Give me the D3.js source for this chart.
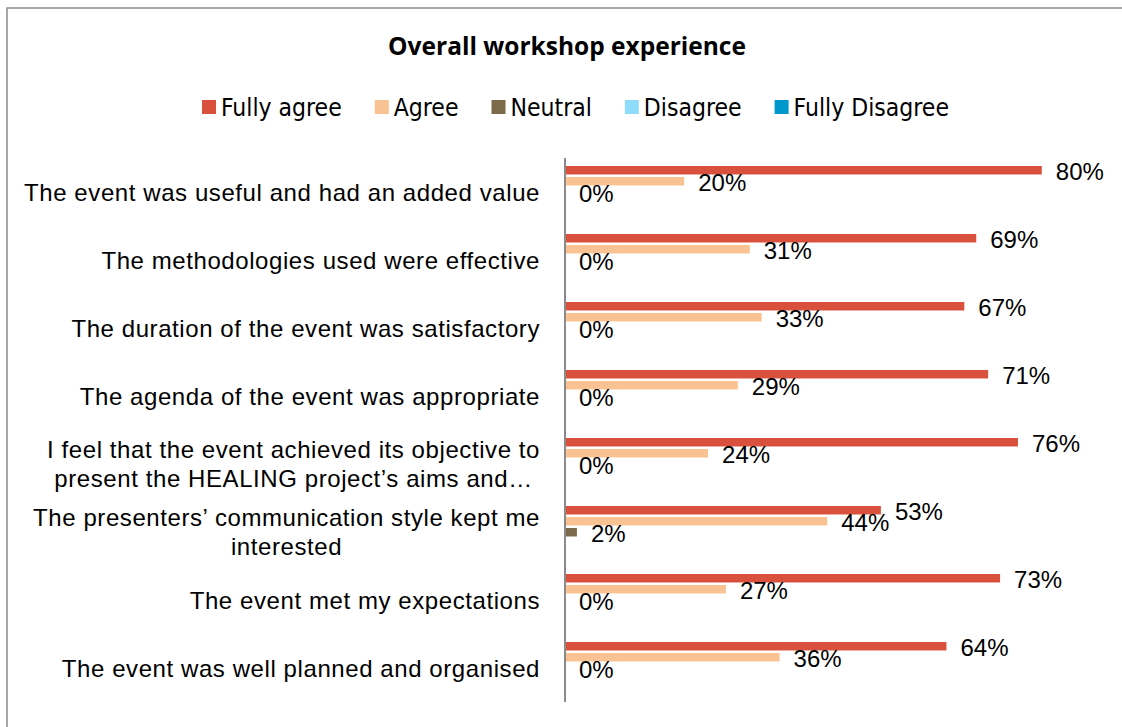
<!DOCTYPE html>
<html>
<head>
<meta charset="utf-8">
<script src="https://cdn.jsdelivr.net/npm/d3@7"></script>
<style>
  body { margin: 0; background: #fff; }
  svg { display: block; }
</style>
</head>
<body>
<div id="chart-area"></div>
<script>
// Data (top to bottom as shown)
const categories = [
  ["The event was useful and had an added value"],
  ["The methodologies used were effective"],
  ["The duration of the event was satisfactory"],
  ["The agenda of the event was appropriate"],
  ["I feel that the event achieved its objective to", "present the HEALING project\u2019s aims and\u2026"],
  ["The presenters\u2019 communication style kept me", "interested"],
  ["The event met my expectations"],
  ["The event was well planned and organised"]
];
const seriesNames = ["Fully agree", "Agree", "Neutral", "Disagree", "Fully Disagree"];
const fullyAgree    = [0.80, 0.69, 0.67, 0.71, 0.76, 0.53, 0.73, 0.64];
const agree         = [0.20, 0.31, 0.33, 0.29, 0.24, 0.44, 0.27, 0.36];
const neutral       = [0.00, 0.00, 0.00, 0.00, 0.00, 0.02, 0.00, 0.00];
const disagree      = [0, 0, 0, 0, 0, 0, 0, 0];
const fullyDisagree = [0, 0, 0, 0, 0, 0, 0, 0];
const labeledSeries = ["Fully agree", "Agree", "Neutral"];

const colors = ["#d9513d", "#f9c293", "#7c6a4a", "#8fdcfa", "#0098cc"];
const seriesValues = [fullyAgree, agree, neutral, disagree, fullyDisagree];

const W = 1122, H = 727;
const svg = d3.select("#chart-area")
  .append("svg")
    .attr("width", W)
    .attr("height", H);

// outer frame
svg.append("rect")
  .attr("x", 7).attr("y", 8)
  .attr("width", 1300).attr("height", 900)
  .attr("fill", "#fff")
  .attr("stroke", "#8a8a8a")
  .attr("stroke-width", 1.5);

// title
svg.append("text")
  .attr("x", 567).attr("y", 55)
  .attr("text-anchor", "middle")
  .attr("font-family", "'Open Sans', sans-serif")
  .attr("font-weight", "bold")
  .attr("font-size", "24.5px")
  .attr("fill", "#000")
  .text("Overall workshop experience");

// legend
const legend = svg.append("g").attr("class", "legend");
let lx = 202;
seriesNames.forEach((name, i) => {
  legend.append("rect")
    .attr("x", lx).attr("y", 100)
    .attr("width", 14).attr("height", 14)
    .attr("fill", colors[i]);
  let t = legend.append("text")
    .attr("x", lx + 19).attr("y", 116)
    .attr("font-family", "'DejaVu Sans Condensed', sans-serif")
    .attr("font-size", "24.5px")
    .attr("fill", "#000")
    .text(name);
  lx += 19 + t.node().getComputedTextLength() + 33;
});

// scales
let y = d3.scaleBand()
  .domain(d3.range(categories.length))
  .range([158, 702]);

let ySub = d3.scaleBand()
  .domain(seriesNames)
  .range([8, 60.5])
  .paddingInner(0.23);

let x = d3.scaleLinear()
  .domain([0, 1])
  .range([565, 1161]);

// bars
const groups = svg.selectAll("g.cat")
  .data(categories)
  .enter().append("g")
    .attr("class", "cat")
    .attr("transform", (d, i) => `translate(0, ${y(i)})`);

groups.each(function(c, i) {
  const g = d3.select(this);
  const rows = seriesNames.map((s, k) => ({ s, k, v: seriesValues[k][i] }));
  g.selectAll("rect")
    .data(rows)
    .enter().append("rect")
      .attr("x", x(0))
      .attr("y", d => ySub(d.s))
      .attr("width", d => x(d.v) - x(0))
      .attr("height", ySub.bandwidth())
      .attr("fill", d => colors[d.k]);
  g.selectAll("text.val")
    .data(rows.filter(d => labeledSeries.includes(d.s)))
    .enter().append("text")
      .attr("class", "val")
      .attr("x", d => x(d.v) + 14)
      .attr("y", d => ySub(d.s) + ySub.bandwidth() / 2 + 9.7)
      .attr("font-family", "'Liberation Sans', Arial, sans-serif")
      .attr("font-size", "24px")
      .attr("fill", "#000")
      .text(d => Math.round(d.v * 100) + "%");
});

// category labels: block right-aligned, lines centred within block
const labelFont = "'Liberation Sans', Arial, sans-serif";
categories.forEach((lines, i) => {
  const cy = y(i) + y.bandwidth() / 2;
  const g = svg.append("g").attr("class", "cat-label");
  const lineH = 29.5;
  const texts = lines.map((ln, j) => g.append("text")
    .attr("y", cy + 8.5 + (j - (lines.length - 1) / 2) * lineH)
    .attr("font-family", labelFont)
    .attr("font-size", "24px")
    .attr("letter-spacing", "0.58px")
    .attr("fill", "#000")
    .text(ln));
  const maxW = d3.max(texts, t => t.node().getComputedTextLength());
  texts.forEach(t => t.attr("x", 540 - maxW / 2).attr("text-anchor", "middle"));
});

// axis line
svg.append("line")
  .attr("x1", x(0)).attr("x2", x(0))
  .attr("y1", y.range()[0]).attr("y2", y.range()[1])
  .attr("stroke", "#8a8a8a")
  .attr("stroke-width", 2);
</script>
</body>
</html>
